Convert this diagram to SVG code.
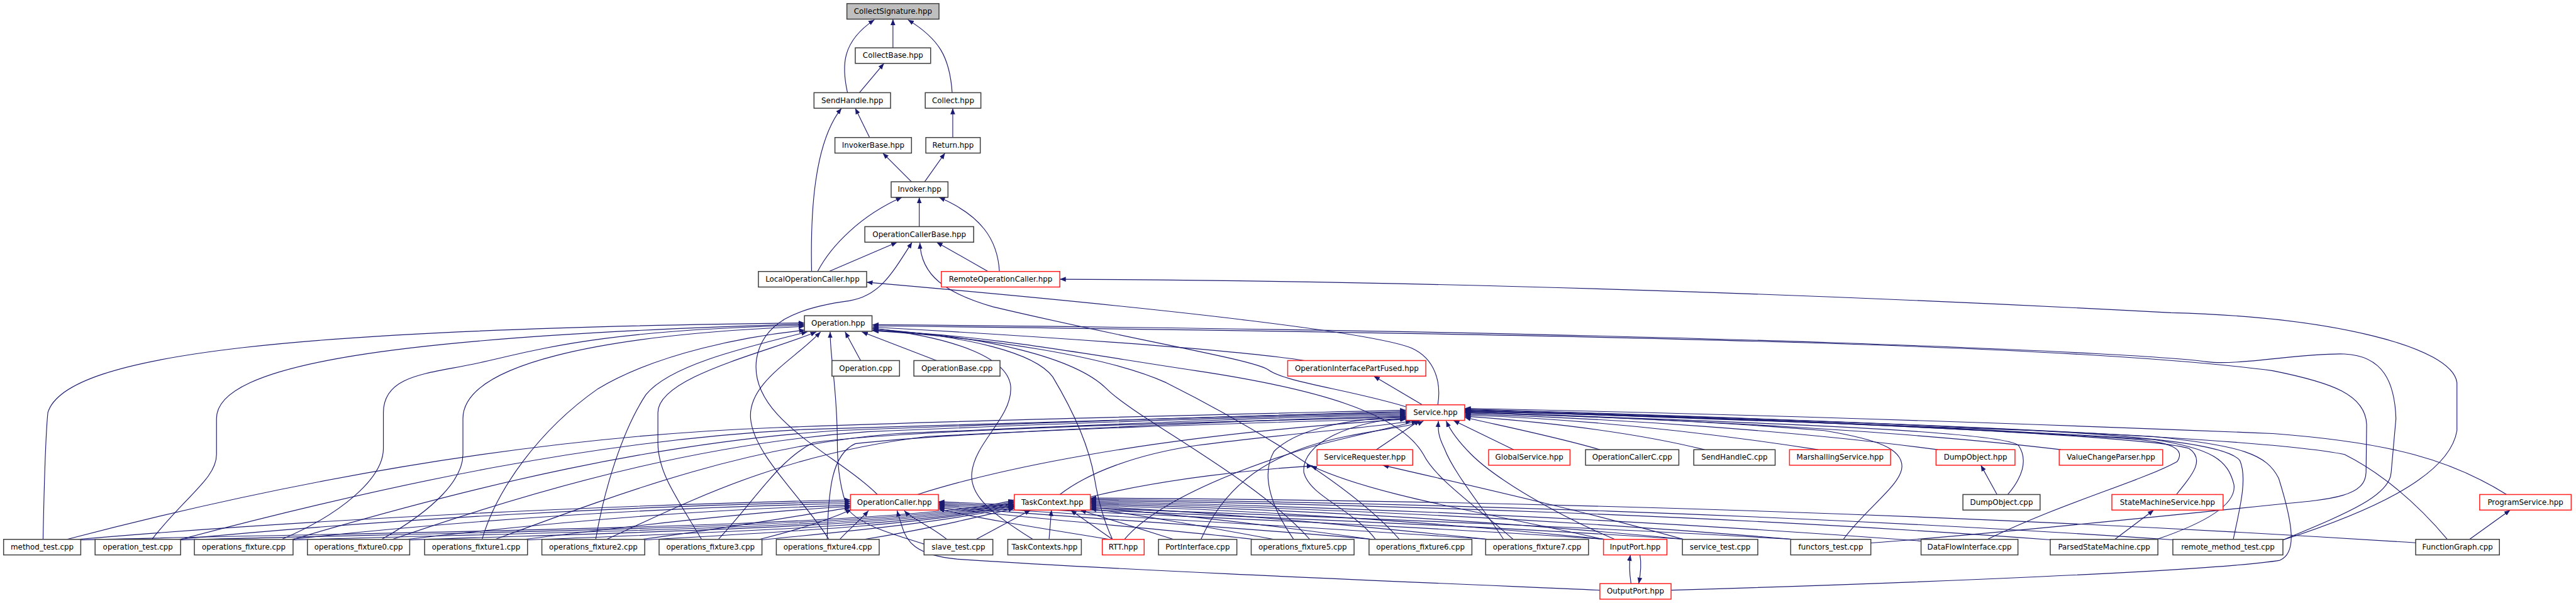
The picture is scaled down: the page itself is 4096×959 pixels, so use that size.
<svg xmlns="http://www.w3.org/2000/svg" width="4096" height="959" viewBox="0 0 4096 959">
<style>
.e{fill:none;stroke:#191970;stroke-width:1.2;marker-end:url(#ah)}
.n rect{fill:#fff;stroke:#404040;stroke-width:1.6}
.r rect{stroke:#ff2020}
.root rect{fill:#bfbfbf}
text{font-family:"DejaVu Sans",sans-serif;font-size:12.5px;text-anchor:middle;fill:#000}
</style>
<defs>
<marker id="ah" viewBox="0 0 10 10" refX="10" refY="5" markerWidth="10" markerHeight="10" markerUnits="userSpaceOnUse" orient="auto"><path d="M0,1L10,5L0,9z" fill="#191970"/></marker>
</defs>
<rect width="4096" height="959" fill="#fff"/>
<g transform="scale(0.951)">
<g id="edges">
<path class="e" d="M1493,80 L1493,32"/>
<path class="e" d="M1417,155 C1407,110 1407,70 1462,33"/>
<path class="e" d="M1592,155 C1588,95 1570,65 1518,33"/>
<path class="e" d="M1437,155 L1478,106"/>
<path class="e" d="M1454,230 L1430,181"/>
<path class="e" d="M1357,454 C1355,360 1360,240 1407,181"/>
<path class="e" d="M1593,230 L1593,181"/>
<path class="e" d="M1524,304 L1476,256"/>
<path class="e" d="M1546,304 L1580,256"/>
<path class="e" d="M1537,379 L1537,330"/>
<path class="e" d="M1367,454 C1390,410 1440,360 1508,330"/>
<path class="e" d="M1671,454 C1668,400 1640,360 1570,330"/>
<path class="e" d="M1386,454 L1500,405"/>
<path class="e" d="M1652,454 L1566,405"/>
<path class="e" d="M1467,827 C1400,760 1250,700 1265,600 C1275,540 1330,515 1420,503 C1470,495 1490,460 1525,405"/>
<path class="e" d="M2350,680 C2250,650 2150,640 2120,618 C2090,600 1900,570 1660,513 C1580,490 1540,460 1538,406"/>
<path class="e" d="M2404,677 C2410,640 2400,600 2360,582 C2300,558 2000,520 1449,472"/>
<path class="e" d="M3817,903 C3950,860 4095,800 4108,720 L4108,640 C4100,580 3900,530 3630,523 C3200,500 2500,470 1772,467"/>
<path class="e" d="M72,902 C74,800 76,730 80,690 C110,590 500,550 1345,540"/>
<path class="e" d="M254,902 C310,830 362,800 362,760 L362,700 C362,610 650,562 1345,542"/>
<path class="e" d="M471,902 C570,860 641,800 641,750 L641,690 C641,625 720,625 800,607 C900,585 1000,552 1345,544"/>
<path class="e" d="M638,902 C730,850 774,800 774,760 L774,700 C774,610 1000,560 1345,546"/>
<path class="e" d="M806,902 C830,820 900,720 1000,650 C1100,590 1250,562 1346,552"/>
<path class="e" d="M996,902 C1010,820 1040,720 1080,660 C1120,610 1250,580 1350,555"/>
<path class="e" d="M1173,902 C1130,830 1100,790 1100,740 L1100,690 C1100,630 1280,590 1365,555"/>
<path class="e" d="M1386,902 C1340,830 1260,760 1255,700 C1250,640 1330,600 1372,555"/>
<path class="e" d="M1439,603 L1413,555"/>
<path class="e" d="M1566,603 L1441,555"/>
<path class="e" d="M1545,910 C1500,895 1440,880 1418,852 C1405,820 1400,780 1400,740 C1400,650 1388,600 1388,555"/>
<path class="e" d="M2181,603 C2050,583 1700,560 1459,547"/>
<path class="e" d="M1727,902 C1660,860 1620,830 1625,790 C1630,740 1690,700 1690,650 C1690,600 1600,565 1459,549"/>
<path class="e" d="M1860,902 C1845,870 1835,830 1830,800 C1820,740 1790,680 1760,630 C1730,590 1620,562 1459,550"/>
<path class="e" d="M2190,902 C2100,800 1900,700 1850,650 C1800,600 1650,560 1459,552"/>
<path class="e" d="M2340,902 C2250,800 2050,690 1950,640 C1850,595 1650,565 1459,553"/>
<path class="e" d="M2530,902 C2460,840 2400,800 2380,760 C2340,690 2200,650 2000,620 C1800,590 1650,560 1459,553"/>
<path class="e" d="M3128,908 C3300,895 3600,865 3812,843 C3900,835 3955,830 3956,790 L3957,710 C3955,660 3900,640 3800,620 C3500,580 2800,560 1459,545"/>
<path class="e" d="M3817,903 C3920,860 3996,830 3998,790 L4006,700 C4004,640 3985,595 3920,592 C3850,590 3740,612 3690,605 C3600,592 2900,555 1459,543"/>
<path class="e" d="M112,902 C500,800 900,730 1300,715 C1700,700 2100,692 2351,686"/>
<path class="e" d="M302,902 C650,810 1000,735 1350,718 C1750,705 2100,693 2351,688"/>
<path class="e" d="M490,902 C800,810 1100,740 1400,720 C1800,705 2100,694 2351,690"/>
<path class="e" d="M656,902 C950,800 1200,740 1450,722 C1800,707 2100,696 2351,692"/>
<path class="e" d="M828,902 C1050,820 1250,745 1500,725 C1850,710 2100,698 2351,694"/>
<path class="e" d="M1014,902 C1150,840 1300,760 1550,730 C1900,712 2150,700 2351,696"/>
<path class="e" d="M1201,902 C1260,840 1300,770 1360,740 C1500,720 2000,705 2351,698"/>
<path class="e" d="M1383,902 C1385,820 1390,760 1430,742 C1600,722 2050,708 2351,700"/>
<path class="e" d="M1534,827 C1650,790 1900,730 2351,701"/>
<path class="e" d="M1772,827 C1820,790 1900,760 2000,745 C2150,725 2300,715 2360,704"/>
<path class="e" d="M2008,902 C2040,830 2100,760 2250,730 C2320,716 2365,712 2380,704"/>
<path class="e" d="M1880,902 C1950,820 2150,760 2200,745 C2280,725 2340,712 2370,704"/>
<path class="e" d="M2163,902 C2120,840 2110,790 2130,755 C2170,715 2260,700 2351,697"/>
<path class="e" d="M2300,902 C2260,850 2190,830 2180,790 C2175,740 2260,705 2351,699"/>
<path class="e" d="M2514,902 C2480,850 2430,790 2415,750 C2405,730 2404,720 2405,704"/>
<path class="e" d="M2700,902 C2600,860 2500,800 2460,760 C2440,740 2425,720 2418,704"/>
<path class="e" d="M3082,902 C3120,850 3180,810 3180,780 C3180,750 3140,735 3050,720 C2800,700 2600,695 2449,690"/>
<path class="e" d="M2301,752 L2374,703"/>
<path class="e" d="M2531,752 L2430,703"/>
<path class="e" d="M2675,752 C2600,730 2500,710 2449,698"/>
<path class="e" d="M2850,752 C2720,720 2560,704 2449,696"/>
<path class="e" d="M3040,752 C2820,718 2620,700 2449,694"/>
<path class="e" d="M3240,752 C3000,720 2700,700 2449,692"/>
<path class="e" d="M3446,752 C3200,722 2800,700 2449,690"/>
<path class="e" d="M3357,827 C3380,800 3392,770 3375,745 C3350,720 2900,705 2449,689"/>
<path class="e" d="M3639,827 C3660,800 3690,770 3660,750 C3600,730 3000,700 2449,688"/>
<path class="e" d="M3606,902 C3700,870 3740,840 3735,810 C3725,770 3700,750 3600,735 C3200,710 2800,695 2449,687"/>
<path class="e" d="M3734,902 C3745,850 3758,800 3745,770 C3725,745 3600,730 3400,720 C3000,705 2700,695 2449,686"/>
<path class="e" d="M2794,987 C3200,975 3700,955 3812,937 C3840,925 3835,880 3810,800 C3790,760 3750,745 3600,730 C3200,708 2800,695 2449,685"/>
<path class="e" d="M4092,902 C4040,840 3980,790 3920,760 C3800,735 3300,710 2449,684"/>
<path class="e" d="M4191,827 C4100,770 4000,740 3800,725 C3300,705 2800,690 2449,683"/>
<path class="e" d="M3323,902 C3450,840 3580,805 3640,772 C3655,750 3630,738 3550,733 C3200,712 2800,696 2449,688"/>
<path class="e" d="M2378,677 L2297,629"/>
<path class="e" d="M130,902 C500,870 1000,845 1422,836"/>
<path class="e" d="M297,902 C650,868 1050,846 1422,839"/>
<path class="e" d="M485,902 C800,868 1100,848 1422,842"/>
<path class="e" d="M680,902 C950,870 1200,851 1422,845"/>
<path class="e" d="M877,902 C1100,874 1300,853 1422,847"/>
<path class="e" d="M1073,902 C1250,878 1360,858 1422,849"/>
<path class="e" d="M1270,902 C1350,882 1395,865 1424,852"/>
<path class="e" d="M1404,902 C1420,885 1440,868 1452,854"/>
<path class="e" d="M1583,902 C1560,882 1525,868 1512,854"/>
<path class="e" d="M1855,902 C1750,885 1640,868 1569,851"/>
<path class="e" d="M2097,902 C1950,885 1750,870 1569,849"/>
<path class="e" d="M2294,902 C2050,880 1800,866 1569,847"/>
<path class="e" d="M2489,902 C2150,878 1850,864 1569,845"/>
<path class="e" d="M2686,902 C2300,875 1900,862 1569,843"/>
<path class="e" d="M2818,902 C2400,874 1950,860 1569,841"/>
<path class="e" d="M2999,902 C2500,872 2000,858 1569,839"/>
<path class="e" d="M2675,987 C2400,975 1900,955 1600,935 C1530,928 1515,905 1508,880 C1505,870 1502,862 1500,854"/>
<path class="e" d="M133,903 C600,890 1520,884 1696,836"/>
<path class="e" d="M300,903 C750,890 1520,884 1696,838"/>
<path class="e" d="M488,903 C900,890 1520,884 1696,840"/>
<path class="e" d="M683,903 C1050,890 1530,882 1696,842"/>
<path class="e" d="M880,903 C1200,890 1540,880 1696,844"/>
<path class="e" d="M1076,903 C1300,890 1550,878 1696,846"/>
<path class="e" d="M1272,903 C1420,888 1560,876 1696,848"/>
<path class="e" d="M1445,902 C1550,885 1620,868 1696,850"/>
<path class="e" d="M1632,902 L1723,853"/>
<path class="e" d="M1754,902 L1758,853"/>
<path class="e" d="M1860,902 L1790,853"/>
<path class="e" d="M1962,902 L1806,853"/>
<path class="e" d="M2130,902 C2000,878 1900,860 1823,851"/>
<path class="e" d="M2294,902 C2100,875 1950,858 1823,849"/>
<path class="e" d="M2489,902 C2200,872 2000,855 1823,847"/>
<path class="e" d="M2686,902 C2350,868 2050,852 1823,845"/>
<path class="e" d="M2818,902 C2450,866 2100,850 1823,843"/>
<path class="e" d="M2999,902 C2550,864 2150,848 1823,841"/>
<path class="e" d="M3216,905 C2700,866 2200,846 1823,839"/>
<path class="e" d="M3432,903 C2900,863 2300,843 1823,837"/>
<path class="e" d="M3637,903 C3000,860 2350,840 1823,835"/>
<path class="e" d="M4043,908 C3300,860 2500,836 1823,833"/>
<path class="e" d="M1823,831 C1950,800 2100,785 2195,779"/>
<path class="e" d="M2815,902 C2650,855 2450,810 2312,778"/>
<path class="e" d="M2681,902 C2500,860 2300,830 2192,779"/>
<path class="e" d="M2727,976 C2724,955 2724,940 2726,928"/>
<path class="e" d="M2742,928 C2745,945 2743,960 2740,976"/>
<path class="e" d="M3339,827 L3312,778"/>
<path class="e" d="M3536,902 L3601,853"/>
<path class="e" d="M4129,902 L4197,853"/>
</g>
<g id="n_CollectSignature" class="n root"><rect x="1416" y="6" width="154" height="26"/><text x="1493" y="23">CollectSignature.hpp</text></g>
<g id="n_CollectBase" class="n"><rect x="1430" y="80" width="126" height="26"/><text x="1493" y="97">CollectBase.hpp</text></g>
<g id="n_SendHandle" class="n"><rect x="1361" y="155" width="128" height="26"/><text x="1425" y="172">SendHandle.hpp</text></g>
<g id="n_Collect" class="n"><rect x="1547" y="155" width="93" height="26"/><text x="1593.5" y="172">Collect.hpp</text></g>
<g id="n_InvokerBase" class="n"><rect x="1396" y="230" width="128" height="26"/><text x="1460" y="247">InvokerBase.hpp</text></g>
<g id="n_Return" class="n"><rect x="1548" y="230" width="91" height="26"/><text x="1593.5" y="247">Return.hpp</text></g>
<g id="n_Invoker" class="n"><rect x="1490" y="304" width="95" height="26"/><text x="1537.5" y="321">Invoker.hpp</text></g>
<g id="n_OperationCallerBase" class="n"><rect x="1446" y="379" width="182" height="26"/><text x="1537" y="396">OperationCallerBase.hpp</text></g>
<g id="n_LocalOperationCaller" class="n"><rect x="1268" y="454" width="181" height="26"/><text x="1358.5" y="471">LocalOperationCaller.hpp</text></g>
<g id="n_RemoteOperationCaller" class="n r"><rect x="1574" y="454" width="198" height="26"/><text x="1673" y="471">RemoteOperationCaller.hpp</text></g>
<g id="n_Operation_hpp" class="n"><rect x="1345" y="528" width="113" height="26"/><text x="1401.5" y="545">Operation.hpp</text></g>
<g id="n_Operation_cpp" class="n"><rect x="1391" y="603" width="113" height="26"/><text x="1447.5" y="620">Operation.cpp</text></g>
<g id="n_OperationBase_cpp" class="n"><rect x="1528" y="603" width="144" height="26"/><text x="1600" y="620">OperationBase.cpp</text></g>
<g id="n_OIPF" class="n r"><rect x="2153" y="603" width="231" height="26"/><text x="2268.5" y="620">OperationInterfacePartFused.hpp</text></g>
<g id="n_Service" class="n r"><rect x="2351" y="677" width="98" height="26"/><text x="2400" y="694">Service.hpp</text></g>
<g id="n_ServiceRequester" class="n r"><rect x="2202" y="752" width="160" height="26"/><text x="2282" y="769">ServiceRequester.hpp</text></g>
<g id="n_GlobalService" class="n r"><rect x="2489" y="752" width="136" height="26"/><text x="2557" y="769">GlobalService.hpp</text></g>
<g id="n_OperationCallerC" class="n"><rect x="2651" y="752" width="156" height="26"/><text x="2729" y="769">OperationCallerC.cpp</text></g>
<g id="n_SendHandleC" class="n"><rect x="2832" y="752" width="136" height="26"/><text x="2900" y="769">SendHandleC.cpp</text></g>
<g id="n_MarshallingService" class="n r"><rect x="2992" y="752" width="169" height="26"/><text x="3076.5" y="769">MarshallingService.hpp</text></g>
<g id="n_DumpObject_hpp" class="n r"><rect x="3237" y="752" width="132" height="26"/><text x="3303" y="769">DumpObject.hpp</text></g>
<g id="n_ValueChangeParser" class="n r"><rect x="3443" y="752" width="173" height="26"/><text x="3529.5" y="769">ValueChangeParser.hpp</text></g>
<g id="n_OperationCaller" class="n r"><rect x="1422" y="827" width="147" height="26"/><text x="1495.5" y="844">OperationCaller.hpp</text></g>
<g id="n_TaskContext" class="n r"><rect x="1696" y="827" width="127" height="26"/><text x="1759.5" y="844">TaskContext.hpp</text></g>
<g id="n_DumpObject_cpp" class="n"><rect x="3282" y="827" width="129" height="26"/><text x="3346.5" y="844">DumpObject.cpp</text></g>
<g id="n_StateMachineService" class="n r"><rect x="3531" y="827" width="186" height="26"/><text x="3624" y="844">StateMachineService.hpp</text></g>
<g id="n_ProgramService" class="n r"><rect x="4146" y="827" width="153" height="26"/><text x="4222.5" y="844">ProgramService.hpp</text></g>
<g id="n_method_test" class="n"><rect x="6" y="902" width="129" height="26"/><text x="70.5" y="919">method_test.cpp</text></g>
<g id="n_operation_test" class="n"><rect x="159" y="902" width="143" height="26"/><text x="230.5" y="919">operation_test.cpp</text></g>
<g id="n_operations_fixture" class="n"><rect x="325" y="902" width="165" height="26"/><text x="407.5" y="919">operations_fixture.cpp</text></g>
<g id="n_operations_fixture0" class="n"><rect x="514" y="902" width="171" height="26"/><text x="599.5" y="919">operations_fixture0.cpp</text></g>
<g id="n_operations_fixture1" class="n"><rect x="710" y="902" width="172" height="26"/><text x="796" y="919">operations_fixture1.cpp</text></g>
<g id="n_operations_fixture2" class="n"><rect x="906" y="902" width="172" height="26"/><text x="992" y="919">operations_fixture2.cpp</text></g>
<g id="n_operations_fixture3" class="n"><rect x="1102" y="902" width="172" height="26"/><text x="1188" y="919">operations_fixture3.cpp</text></g>
<g id="n_operations_fixture4" class="n"><rect x="1298" y="902" width="172" height="26"/><text x="1384" y="919">operations_fixture4.cpp</text></g>
<g id="n_slave_test" class="n"><rect x="1545" y="902" width="115" height="26"/><text x="1602.5" y="919">slave_test.cpp</text></g>
<g id="n_TaskContexts" class="n"><rect x="1685" y="902" width="123" height="26"/><text x="1746.5" y="919">TaskContexts.hpp</text></g>
<g id="n_RTT" class="n r"><rect x="1843" y="902" width="70" height="26"/><text x="1878" y="919">RTT.hpp</text></g>
<g id="n_PortInterface" class="n"><rect x="1937" y="902" width="131" height="26"/><text x="2002.5" y="919">PortInterface.cpp</text></g>
<g id="n_operations_fixture5" class="n"><rect x="2092" y="902" width="172" height="26"/><text x="2178" y="919">operations_fixture5.cpp</text></g>
<g id="n_operations_fixture6" class="n"><rect x="2289" y="902" width="172" height="26"/><text x="2375" y="919">operations_fixture6.cpp</text></g>
<g id="n_operations_fixture7" class="n"><rect x="2484" y="902" width="172" height="26"/><text x="2570" y="919">operations_fixture7.cpp</text></g>
<g id="n_InputPort" class="n r"><rect x="2681" y="902" width="106" height="26"/><text x="2734" y="919">InputPort.hpp</text></g>
<g id="n_service_test" class="n"><rect x="2813" y="902" width="126" height="26"/><text x="2876" y="919">service_test.cpp</text></g>
<g id="n_functors_test" class="n"><rect x="2994" y="902" width="134" height="26"/><text x="3061" y="919">functors_test.cpp</text></g>
<g id="n_DataFlowInterface" class="n"><rect x="3212" y="902" width="162" height="26"/><text x="3293" y="919">DataFlowInterface.cpp</text></g>
<g id="n_ParsedStateMachine" class="n"><rect x="3428" y="902" width="180" height="26"/><text x="3518" y="919">ParsedStateMachine.cpp</text></g>
<g id="n_remote_method_test" class="n"><rect x="3633" y="902" width="184" height="26"/><text x="3725" y="919">remote_method_test.cpp</text></g>
<g id="n_FunctionGraph" class="n"><rect x="4039" y="902" width="140" height="26"/><text x="4109" y="919">FunctionGraph.cpp</text></g>
<g id="n_OutputPort" class="n r"><rect x="2675" y="976" width="119" height="26"/><text x="2734.5" y="993">OutputPort.hpp</text></g>
</g>
</svg>
